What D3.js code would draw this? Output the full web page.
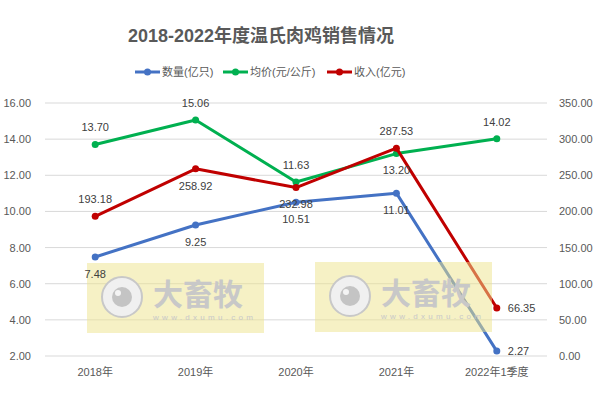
<!DOCTYPE html>
<html>
<head>
<meta charset="utf-8">
<script src="https://cdn.jsdelivr.net/npm/d3@7"></script>
<style>
  body { margin: 0; background: #fff; }
  svg text { font-family: "Liberation Sans", "Noto Sans CJK SC", sans-serif; }
</style>
</head>
<body>
<div id="chart"></div>
<script>
// Chart data
const years = ["2018年", "2019年", "2020年", "2021年", "2022年1季度"];
const volume = [7.48, 9.25, 10.51, 11.01, 2.27];      // 数量(亿只), left axis
const price = [13.70, 15.06, 11.63, 13.20, 14.02];    // 均价(元/公斤), left axis
const revenue = [193.18, 258.92, 232.98, 287.53, 66.35]; // 收入(亿元), right axis
const leftTicks = [2, 4, 6, 8, 10, 12, 14, 16];
const rightTicks = [0, 50, 100, 150, 200, 250, 300, 350];
const seriesNames = ["数量(亿只)", "均价(元/公斤)", "收入(亿元)"];
// label placement per point: a = above, b = below, r = right
const volumePos = ["b", "b", "b", "b", "r"];
const pricePos = ["a", "a", "a", "b", "a"];
const revenuePos = ["a", "b", "b", "a", "r"];

const width = 596, height = 401;
const margin = { top: 103, right: 49, bottom: 45, left: 45 };

const svg = d3.select("#chart").append("svg")
    .attr("width", width)
    .attr("height", height);

const x = d3.scaleBand()
    .domain(years)
    .range([margin.left, width - margin.right])
    .padding(0);

const yL = d3.scaleLinear().domain([2, 16]).range([height - margin.bottom, margin.top]);
const yR = d3.scaleLinear().domain([0, 350]).range([height - margin.bottom, margin.top]);

// Gridlines
svg.append("g")
    .selectAll("line")
    .data(leftTicks)
    .join("line")
    .attr("x1", margin.left)
    .attr("x2", width - margin.right)
    .attr("y1", d => yL(d))
    .attr("y2", d => yL(d))
    .attr("stroke", "#d9d9d9")
    .attr("stroke-width", 1);

// Left axis
svg.append("g")
    .attr("transform", `translate(${margin.left},0)`)
    .call(d3.axisLeft(yL).tickValues(leftTicks).tickFormat(d3.format(".2f")).tickSize(0).tickPadding(14))
    .call(g => g.select(".domain").remove())
    .selectAll("text")
    .attr("fill", "#595959")
    .style("font-size", "11px");

// Right axis
svg.append("g")
    .attr("transform", `translate(${width - margin.right},0)`)
    .call(d3.axisRight(yR).tickValues(rightTicks).tickFormat(d3.format(".2f")).tickSize(0).tickPadding(12))
    .call(g => g.select(".domain").remove())
    .selectAll("text")
    .attr("fill", "#595959")
    .style("font-size", "11px");

// Bottom axis
svg.append("g")
    .attr("transform", `translate(0,${height - margin.bottom})`)
    .call(d3.axisBottom(x).tickSize(0).tickPadding(12))
    .call(g => g.select(".domain").remove())
    .selectAll("text")
    .attr("fill", "#595959")
    .style("font-size", "11px");

const series = [
    { name: seriesNames[0], values: volume, pos: volumePos, y: yL, color: "#4472C4" },
    { name: seriesNames[1], values: price, pos: pricePos, y: yL, color: "#00B050" },
    { name: seriesNames[2], values: revenue, pos: revenuePos, y: yR, color: "#C00000" }
];

const cx = d => x(d) + x.bandwidth() / 2;

series.forEach(s => {
    const pts = years.map((yr, i) => [cx(yr), s.y(s.values[i])]);
    svg.append("path")
        .datum(pts)
        .attr("fill", "none")
        .attr("stroke", s.color)
        .attr("stroke-width", 3)
        .attr("stroke-linejoin", "round")
        .attr("d", d3.line());
    svg.append("g")
        .selectAll("circle")
        .data(pts)
        .join("circle")
        .attr("cx", d => d[0])
        .attr("cy", d => d[1])
        .attr("r", 3.5)
        .attr("fill", s.color);
});

// Watermarks (semi-transparent, over the lines)
const marks = [{ x: 87, y: 263 }, { x: 315, y: 262 }];
marks.forEach(m => {
    const g = svg.append("g").attr("transform", `translate(${m.x},${m.y})`);
    g.append("rect")
        .attr("width", 177).attr("height", 70)
        .attr("fill", "#EDE38C").attr("opacity", 0.5);
    g.append("circle").attr("cx", 35).attr("cy", 34).attr("r", 20)
        .attr("fill", "#f0f0f0").attr("stroke", "#c8c8c8").attr("stroke-width", 2);
    g.append("circle").attr("cx", 35).attr("cy", 34).attr("r", 10).attr("fill", "#c4c4c4");
    g.append("circle").attr("cx", 31).attr("cy", 30).attr("r", 3).attr("fill", "#f4f4f4");
    g.append("text")
        .attr("x", 66).attr("y", 42)
        .attr("fill", "#c8c8c8")
        .style("font-family", "'Noto Sans CJK SC', sans-serif")
        .style("font-size", "30px")
        .style("font-weight", "bold")
        .text("大畜牧");
    g.append("text")
        .attr("x", 66).attr("y", 57)
        .attr("fill", "#c8c8c8")
        .attr("textLength", 100)
        .style("font-size", "8px")
        .text("www.dxumu.com");
});

// Data labels
series.forEach(s => {
    svg.append("g")
        .selectAll("text")
        .data(s.values)
        .join("text")
        .attr("x", (d, i) => s.pos[i] === "r" ? cx(years[i]) + 11 : cx(years[i]))
        .attr("y", (d, i) => {
            const py = s.y(d);
            if (s.pos[i] === "a") return py - 17;
            if (s.pos[i] === "b") return py + 17;
            return py;
        })
        .attr("dy", "0.35em")
        .attr("text-anchor", (d, i) => s.pos[i] === "r" ? "start" : "middle")
        .attr("fill", "#404040")
        .style("font-size", "11px")
        .text(d => d3.format(".2f")(d));
});

// Title
svg.append("text")
    .attr("x", 261)
    .attr("y", 42)
    .attr("text-anchor", "middle")
    .attr("fill", "#595959")
    .style("font-size", "18px")
    .style("font-weight", "bold")
    .text("2018-2022年度温氏肉鸡销售情况");

// Legend
const legendX = [135, 223, 327];
const legend = svg.append("g");
series.forEach((s, i) => {
    const g = legend.append("g").attr("transform", `translate(${legendX[i]},72)`);
    g.append("line")
        .attr("x1", 0).attr("x2", 25)
        .attr("stroke", s.color).attr("stroke-width", 3);
    g.append("circle").attr("cx", 12.5).attr("r", 3.5).attr("fill", s.color);
    g.append("text")
        .attr("x", 27)
        .attr("dy", "0.35em")
        .attr("fill", "#595959")
        .style("font-size", "11px")
        .text(s.name);
});
</script>
</body>
</html>
